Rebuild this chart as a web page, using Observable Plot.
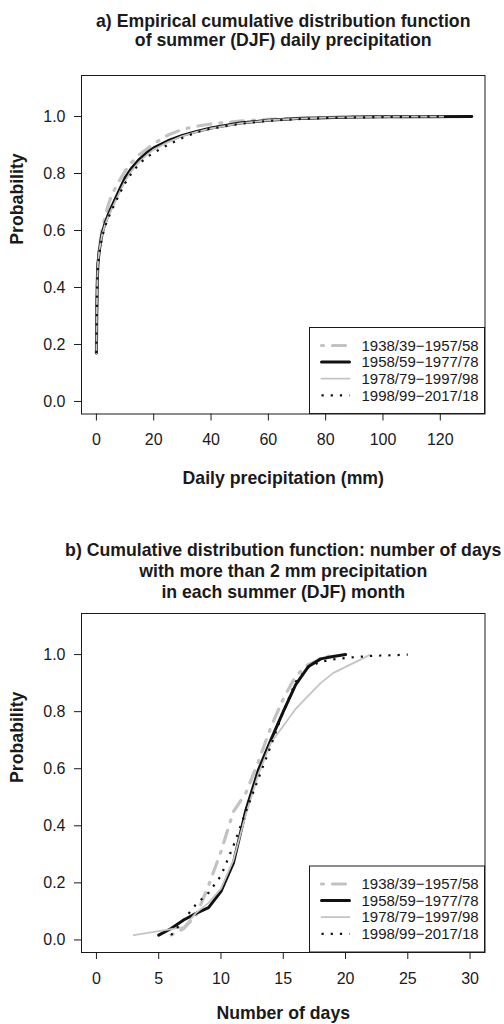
<!DOCTYPE html>
<html><head><meta charset="utf-8">
<script src="https://cdn.jsdelivr.net/npm/d3@7"></script>
<script src="https://cdn.jsdelivr.net/npm/@observablehq/plot@0.6"></script>
<style>
body{margin:0;background:#fff;}
#chart svg{display:block;}
</style></head><body><div id="chart"></div>
<script>
// ---- labels ----
const periods = ["1938/39\u22121957/58","1958/59\u22121977/78","1978/79\u22121997/98","1998/99\u22122017/18"];
const titleA = "a) Empirical cumulative distribution function\nof summer (DJF) daily precipitation";
const titleB = "b) Cumulative distribution function: number of days\nwith more than 2 mm precipitation\nin each summer (DJF) month";
const xLabelA = "Daily precipitation (mm)";
const xLabelB = "Number of days";
const yLabel = "Probability";
const xTicksA = [0, 20, 40, 60, 80, 100, 120];
const xTicksB = [0, 5, 10, 15, 20, 25, 30];
const yTicks = [0, 0.2, 0.4, 0.6, 0.8, 1.0];

// ---- panel a: daily precipitation (mm) and ECDF ----
const precipGrid = [0, 0.1, 0.2, 0.3, 0.5, 1, 2, 3, 4, 5, 6, 8, 10, 12, 15, 18, 20, 25, 30, 35, 40, 50, 60, 70, 80, 90, 100, 110];
const precipMax = [121, 131, 121, 121];
const cdfA1938 = [0.17, 0.28, 0.36, 0.42, 0.48, 0.54, 0.605, 0.648, 0.685, 0.715, 0.738, 0.775, 0.808, 0.836, 0.866, 0.889, 0.905, 0.935, 0.955, 0.966, 0.974, 0.984, 0.99, 0.994, 0.997, 0.998, 0.999, 0.9995];
const cdfA1958 = [0.17, 0.28, 0.36, 0.42, 0.48, 0.53, 0.59, 0.625, 0.652, 0.676, 0.698, 0.742, 0.785, 0.815, 0.85, 0.876, 0.89, 0.915, 0.934, 0.948, 0.96, 0.977, 0.987, 0.993, 0.996, 0.998, 0.999, 0.9995];
const cdfA1978 = [0.17, 0.28, 0.36, 0.42, 0.48, 0.53, 0.585, 0.62, 0.645, 0.668, 0.689, 0.732, 0.773, 0.806, 0.842, 0.869, 0.884, 0.91, 0.931, 0.946, 0.958, 0.976, 0.987, 0.993, 0.996, 0.998, 0.999, 0.9995];
const cdfA1998 = [0.17, 0.28, 0.36, 0.42, 0.47, 0.52, 0.578, 0.613, 0.641, 0.664, 0.685, 0.727, 0.766, 0.797, 0.835, 0.86, 0.873, 0.901, 0.925, 0.945, 0.958, 0.974, 0.985, 0.991, 0.995, 0.997, 0.998, 0.999];

// ---- panel b: number of days > 2 mm per month and CDF ----
const daysB1938 = [6, 7, 8, 9, 10, 11, 12, 13, 14, 15, 16, 17, 18, 19];
const cdfB1938 = [0.017, 0.04, 0.085, 0.19, 0.31, 0.45, 0.515, 0.625, 0.745, 0.845, 0.925, 0.965, 0.983, 1.0];
const daysB1958 = [5, 6, 7, 8, 9, 10, 11, 12, 13, 14, 15, 16, 17, 18, 19, 20];
const cdfB1958 = [0.017, 0.04, 0.07, 0.093, 0.113, 0.17, 0.27, 0.455, 0.595, 0.70, 0.80, 0.895, 0.957, 0.985, 0.993, 1.0];
const daysB1978 = [3, 7, 8, 9, 10, 11, 12, 13, 14, 15, 16, 17, 18, 19, 20, 21, 22];
const cdfB1978 = [0.017, 0.045, 0.095, 0.13, 0.18, 0.28, 0.44, 0.58, 0.69, 0.75, 0.81, 0.855, 0.90, 0.935, 0.957, 0.978, 1.0];
const daysB1998 = [6, 7, 8, 9, 10, 11, 12, 13, 14, 15, 16, 17, 18, 19, 20, 21, 22, 23, 24, 25];
const cdfB1998 = [0.017, 0.07, 0.125, 0.165, 0.225, 0.33, 0.45, 0.565, 0.68, 0.80, 0.905, 0.955, 0.975, 0.983, 0.988, 0.992, 0.995, 0.997, 0.998, 1.0];

// ---- styles ----
const FONT = "'Liberation Sans', Arial, Helvetica, sans-serif";
const INK = "#1a1a1a";
const lineStyles = [
  {stroke: "#c2c2c2", strokeWidth: 3.2, strokeDasharray: "2,9,13,9", strokeLinecap: "round", strokeLinejoin: "round"},
  {stroke: "#111", strokeWidth: 3, strokeLinecap: "round", strokeLinejoin: "round"},
  {stroke: "#c4c4c4", strokeWidth: 1.8, strokeLinecap: "round", strokeLinejoin: "round"},
  {stroke: "#111", strokeWidth: 2.2, strokeDasharray: "2.2,7", strokeLinecap: "butt"}
];

function rowsFrom(xsList, psList) {
  const rows = [];
  xsList.forEach((xs, i) => xs.forEach((x, j) => rows.push({period: periods[i], x, p: psList[i][j]})));
  return rows;
}

const rowsA = rowsFrom(
  precipMax.map(m => [...precipGrid, m]),
  [cdfA1938, cdfA1958, cdfA1978, cdfA1998].map(c => [...c, 1])
);
const rowsB = rowsFrom([daysB1938, daysB1958, daysB1978, daysB1998], [cdfB1938, cdfB1958, cdfB1978, cdfB1998]);

function makePanel(cfg) {
  const marks = [
    Plot.axisX({ticks: cfg.xTicks, tickSize: 7, tickPadding: 13, fontSize: 16, label: null}),
    Plot.axisY({ticks: yTicks, tickFormat: d3.format(".1f"), tickSize: 7, tickPadding: 9, fontSize: 16, label: null}),
    ...periods.map((per, i) => Plot.line(cfg.rows.filter(r => r.period === per), {x: "x", y: "p", ...lineStyles[i]})),
    Plot.frame({stroke: INK, strokeWidth: 1}),
    Plot.text([cfg.title], {text: d => d, frameAnchor: "top", lineAnchor: "middle", dy: cfg.titleDy, lineHeight: cfg.titleLH, fontSize: 17.7, fontWeight: "bold", fill: INK}),
    Plot.text([cfg.xLabel], {text: d => d, frameAnchor: "bottom", lineAnchor: "middle", dy: cfg.xLabelDy, fontSize: 17.7, fontWeight: "bold", fill: INK}),
    Plot.text([yLabel], {text: d => d, frameAnchor: "left", dx: -64, rotate: -90, fontSize: 17.7, fontWeight: "bold", fill: INK})
  ];
  const svg = Plot.plot({
    width: 504, height: cfg.height,
    marginLeft: 81, marginRight: 19.5, marginTop: cfg.marginTop, marginBottom: cfg.marginBottom,
    x: {domain: cfg.xDomain, label: null},
    y: {domain: [-0.044, 1.144], label: null},
    style: {fontFamily: FONT, color: INK, background: "white", overflow: "visible"},
    marks
  });
  // legend (bottom-right inside the frame)
  const right = 504 - 19.5, bottom = cfg.height - cfg.marginBottom;
  const boxW = 175, boxH = 86, left = right - boxW, top = bottom - boxH;
  const g = d3.select(svg).append("g").attr("text-anchor", "start");
  g.append("rect").attr("x", left).attr("y", top).attr("width", boxW).attr("height", boxH)
    .attr("fill", "white").attr("stroke", INK).attr("stroke-width", 1);
  periods.forEach((per, i) => {
    const y = top + 18 + i * 16.6;
    const s = lineStyles[i];
    const ln = g.append("line").attr("x1", left + 12).attr("x2", left + 40).attr("y1", y).attr("y2", y)
      .attr("stroke", s.stroke).attr("stroke-width", s.strokeWidth);
    if (s.strokeDasharray) ln.attr("stroke-dasharray", s.strokeDasharray);
    if (s.strokeLinecap) ln.attr("stroke-linecap", s.strokeLinecap);
    g.append("text").attr("x", left + 52).attr("y", y).attr("dy", "0.35em").attr("text-anchor", "start")
      .attr("font-size", 15).attr("fill", INK).attr("font-family", FONT).text(per);
  });
  return svg;
}

const chart = document.getElementById("chart");
chart.append(makePanel({
  rows: rowsA, xDomain: [-5.2, 135.6], xTicks: xTicksA, xLabel: xLabelA, title: titleA,
  height: 500, marginTop: 75, marginBottom: 86.5, titleDy: -45, titleLH: 1.05, xLabelDy: 64.5
}));
chart.append(makePanel({
  rows: rowsB, xDomain: [-1.2, 31.2], xTicks: xTicksB, xLabel: xLabelB, title: titleB,
  height: 524, marginTop: 113, marginBottom: 72, titleDy: -43.5, titleLH: 1.18, xLabelDy: 60.5
}));
</script></body></html>
